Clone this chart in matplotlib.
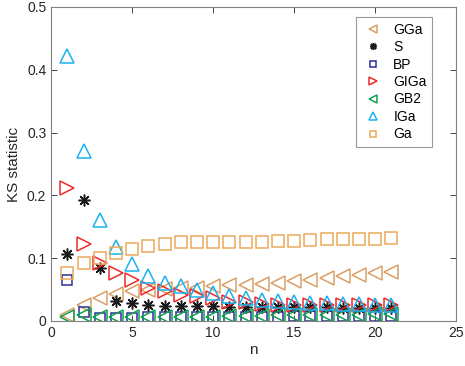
import numpy as np
import matplotlib
matplotlib.use('Agg')
import matplotlib.pyplot as plt

plt.rcParams['font.family'] = ['Liberation Sans', 'DejaVu Sans']

n = np.arange(1, 22)

gga = [0.010, 0.025, 0.036, 0.043, 0.048, 0.050, 0.051, 0.052, 0.053, 0.055, 0.057,
       0.058, 0.059, 0.061, 0.063, 0.066, 0.069, 0.072, 0.074, 0.076, 0.078]
s = [0.106, 0.192, 0.085, 0.032, 0.028, 0.025, 0.024, 0.024, 0.024, 0.024, 0.023,
     0.022, 0.022, 0.022, 0.022, 0.022, 0.022, 0.021, 0.021, 0.021, 0.021]
bp = [0.065, 0.015, 0.004, 0.004, 0.005, 0.006, 0.006, 0.006, 0.007, 0.007, 0.007,
      0.007, 0.007, 0.007, 0.008, 0.008, 0.008, 0.008, 0.008, 0.008, 0.008]
giga = [0.212, 0.123, 0.093, 0.077, 0.065, 0.052, 0.047, 0.042, 0.040, 0.036, 0.031,
        0.030, 0.027, 0.026, 0.026, 0.025, 0.025, 0.025, 0.025, 0.025, 0.025]
gb2 = [0.007, 0.009, 0.006, 0.006, 0.007, 0.007, 0.007, 0.007, 0.007, 0.007, 0.008,
       0.008, 0.008, 0.009, 0.009, 0.009, 0.010, 0.010, 0.010, 0.011, 0.011]
iga = [0.422, 0.270, 0.161, 0.118, 0.090, 0.072, 0.061, 0.055, 0.049, 0.045, 0.040,
       0.037, 0.033, 0.032, 0.031, 0.029, 0.028, 0.027, 0.027, 0.026, 0.026]
ga = [0.076, 0.092, 0.100, 0.109, 0.114, 0.120, 0.122, 0.125, 0.126, 0.126, 0.126,
      0.126, 0.126, 0.127, 0.128, 0.129, 0.130, 0.130, 0.130, 0.130, 0.132]

fig = plt.figure(figsize=(4.65, 3.66), dpi=100)
ax = fig.add_axes([0.110, 0.123, 0.871, 0.858])

ax.plot(n, gga, ls='none', marker='<', ms=10, mfc='none', mec='#D9A066', mew=1.1, label='GGa')
ax.plot(n, s, ls='none', marker=(8, 2, 0), ms=8.5, mec='#1a1a1a', mew=1.1, label='S')
ax.plot(n, bp, ls='none', marker='s', ms=7, mfc='none', mec='#2E3192', mew=1.1, label='BP')
ax.plot(n, giga, ls='none', marker='>', ms=10, mfc='none', mec='#EE2A2A', mew=1.1, label='GIGa')
ax.plot(n, gb2, ls='none', marker='<', ms=10, mfc='none', mec='#12A150', mew=1.1, label='GB2')
ax.plot(n, iga, ls='none', marker='^', ms=10, mfc='none', mec='#1AB2EE', mew=1.1, label='IGa')
ax.plot(n, ga, ls='none', marker='s', ms=8, mfc='none', mec='#EBAA5C', mew=1.1, label='Ga')

ax.set_xlim(0, 25)
ax.set_ylim(0, 0.5)
ax.set_xticks([0, 5, 10, 15, 20, 25])
ax.set_yticks([0, 0.1, 0.2, 0.3, 0.4, 0.5])
ax.set_yticklabels(['0', '0.1', '0.2', '0.3', '0.4', '0.5'])
ax.set_xlabel('n', fontsize=11, color='#262626', labelpad=2)
ax.set_ylabel('KS statistic', fontsize=11, color='#262626', labelpad=4)
ax.tick_params(direction='in', top=True, right=True, labelsize=10,
               colors='#262626', length=4, width=0.6)
for sp in ax.spines.values():
    sp.set_color('#808080')
    sp.set_linewidth(0.8)

leg = ax.legend(loc='upper right', bbox_to_anchor=(0.941, 0.968), borderaxespad=0,
                markerscale=0.6, fontsize=10, frameon=True, fancybox=False,
                edgecolor='#808080', handlelength=1.6, handletextpad=0.7,
                labelspacing=0.25, borderpad=0.4)
leg.get_frame().set_linewidth(0.8)

fig.savefig('out.png', dpi=100)
